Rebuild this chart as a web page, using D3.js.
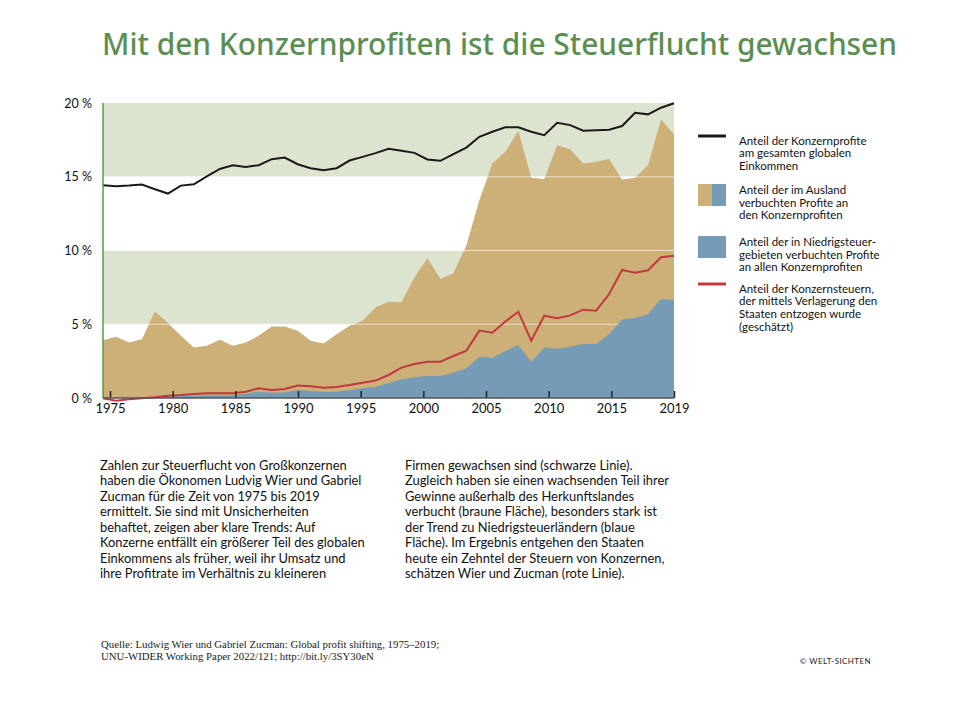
<!DOCTYPE html>
<html>
<head>
<meta charset="utf-8">
<script src="https://d3js.org/d3.v7.min.js"></script>
<style>
  body { margin: 0; background: #fff; }
  svg { display: block; }
</style>
</head>
<body>
<div id="chart"></div>
<script>
// Daten (Prozent des globalen Einkommens)
var years = d3.range(1975, 2020);

// Anteil der Konzernprofite am gesamten globalen Einkommen (schwarze Linie)
var profitShare = [14.42, 14.35, 14.4, 14.47, 14.15, 13.86, 14.4, 14.49, 15.03, 15.53,
  15.78, 15.67, 15.78, 16.19, 16.3, 15.85, 15.58, 15.44, 15.58, 16.1,
  16.35, 16.6, 16.89, 16.76, 16.62, 16.17, 16.08, 16.53, 16.98, 17.71,
  18.05, 18.35, 18.35, 18.05, 17.82, 18.66, 18.5, 18.12, 18.16, 18.19,
  18.44, 19.34, 19.23, 19.68, 19.98];

// Anteil der im Ausland verbuchten Profite (braune Fläche)
var foreignShare = [3.92, 4.15, 3.76, 3.99, 5.87, 5.08, 4.22, 3.42, 3.54, 3.95,
  3.54, 3.76, 4.22, 4.85, 4.85, 4.56, 3.88, 3.7, 4.33, 4.9,
  5.24, 6.14, 6.53, 6.49, 8.19, 9.48, 8.07, 8.46, 10.34, 13.4,
  15.9, 16.69, 18.12, 14.94, 14.85, 17.14, 16.87, 15.9, 16.01, 16.21,
  14.81, 14.94, 15.78, 18.89, 17.87];

// Anteil der in Niedrigsteuergebieten verbuchten Profite (blaue Fläche)
var havenShare = [0, 0, 0, 0.02, 0.05, 0.1, 0.12, 0.15, 0.18, 0.18,
  0.18, 0.29, 0.43, 0.36, 0.38, 0.54, 0.47, 0.43, 0.43, 0.54,
  0.66, 0.77, 1.0, 1.27, 1.4, 1.49, 1.49, 1.72, 2.01, 2.8,
  2.73, 3.19, 3.59, 2.46, 3.43, 3.34, 3.48, 3.66, 3.66, 4.32,
  5.33, 5.42, 5.67, 6.71, 6.66];

// Anteil der entgangenen Konzernsteuern (rote Linie)
var taxLoss = [-0.02, -0.18, -0.09, -0.02, 0.05, 0.16, 0.2, 0.27, 0.32, 0.32,
  0.32, 0.43, 0.66, 0.54, 0.61, 0.84, 0.79, 0.7, 0.75, 0.88,
  1.04, 1.18, 1.56, 2.06, 2.3, 2.46, 2.46, 2.85, 3.21, 4.57,
  4.43, 5.18, 5.85, 3.89, 5.58, 5.4, 5.6, 5.99, 5.92, 7.05,
  8.68, 8.5, 8.66, 9.54, 9.65];

var xTickLabels = ["1975", "1980", "1985", "1990", "1995", "2000", "2005", "2010", "2015", "2019"];
var yTicks = [0, 5, 10, 15, 20];
var bands = [[15, 20], [5, 10]];

var legendItems = [
  { type: "line", color: "#1a1a1a", lines: ["Anteil der Konzernprofite", "am gesamten globalen", "Einkommen"] },
  { type: "split", color: "#cdaf78", lines: ["Anteil der im Ausland", "verbuchten Profite an", "den Konzernprofiten"] },
  { type: "box", color: "#759bb6", lines: ["Anteil der in Niedrigsteuer-", "gebieten verbuchten Profite", "an allen Konzernprofiten"] },
  { type: "line", color: "#c1393f", lines: ["Anteil der Konzernsteuern,", "der mittels Verlagerung den", "Staaten entzogen wurde", "(geschätzt)"] }
];

var textCol1 = [
  "Zahlen zur Steuerflucht von Großkonzernen",
  "haben die Ökonomen Ludvig Wier und Gabriel",
  "Zucman für die Zeit von 1975 bis 2019",
  "ermittelt. Sie sind mit Unsicherheiten",
  "behaftet, zeigen aber klare Trends: Auf",
  "Konzerne entfällt ein größerer Teil des globalen",
  "Einkommens als früher, weil ihr Umsatz und",
  "ihre Profitrate im Verhältnis zu kleineren"
];
var textCol2 = [
  "Firmen gewachsen sind (schwarze Linie).",
  "Zugleich haben sie einen wachsenden Teil ihrer",
  "Gewinne außerhalb des Herkunftslandes",
  "verbucht (braune Fläche), besonders stark ist",
  "der Trend zu Niedrigsteuerländern (blaue",
  "Fläche). Im Ergebnis entgehen den Staaten",
  "heute ein Zehntel der Steuern von Konzernen,",
  "schätzen Wier und Zucman (rote Linie)."
];
var sourceLines = [
  "Quelle: Ludwig Wier und Gabriel Zucman: Global profit shifting, 1975–2019;",
  "UNU-WIDER Working Paper 2022/121; http://bit.ly/3SY30eN"
];

var data = years.map(function(yr, i) {
  return { year: yr, profit: profitShare[i], foreign: foreignShare[i], haven: havenShare[i], tax: taxLoss[i] };
});

// SVG
var width = 980, height = 717;
var svg = d3.select("#chart").append("svg")
  .attr("width", width)
  .attr("height", height);

var font = "Lato, 'Noto Sans', sans-serif";

// Skalen
var plotLeft = 103, plotRight = 674, plotTop = 103, plotBottom = 398;
var xScale = d3.scaleLinear().domain([1975, 2019]).range([plotLeft, plotRight]);
var yScale = d3.scaleLinear().domain([0, 20]).range([plotBottom, plotTop]);
var xTickScale = d3.scalePoint().domain(xTickLabels).range([110, 674]);

// Titel
svg.append("text")
  .attr("x", 102)
  .attr("y", 55)
  .attr("textLength", 795)
  .attr("lengthAdjust", "spacingAndGlyphs")
  .style("font-family", "'Noto Sans', sans-serif")
  .style("font-weight", 500)
  .style("font-size", "30px")
  .style("fill", "#5b8f52")
  .text("Mit den Konzernprofiten ist die Steuerflucht gewachsen");

// Hintergrundstreifen
svg.selectAll("rect.band")
  .data(bands)
  .enter()
  .append("rect")
  .attr("class", "band")
  .attr("x", plotLeft)
  .attr("width", plotRight - plotLeft)
  .attr("y", function(d) { return yScale(d[1]); })
  .attr("height", function(d) { return yScale(d[0]) - yScale(d[1]); })
  .style("fill", "#dce3ce");

// braune Fläche
var areaForeign = d3.area()
  .x(function(d) { return xScale(d.year); })
  .y0(yScale(0))
  .y1(function(d) { return yScale(d.foreign); });
svg.append("path")
  .datum(data)
  .attr("d", areaForeign)
  .style("fill", "#cdaf78");

// weiße Linien der Streifengrenzen über der Fläche
svg.selectAll("line.grid")
  .data([5, 10, 15])
  .enter()
  .append("line")
  .attr("x1", plotLeft)
  .attr("x2", plotRight)
  .attr("y1", function(d) { return yScale(d); })
  .attr("y2", function(d) { return yScale(d); })
  .style("stroke", "#fff")
  .style("stroke-opacity", 0.6)
  .style("stroke-width", 1);

// blaue Fläche
var areaHaven = d3.area()
  .x(function(d) { return xScale(d.year); })
  .y0(yScale(0))
  .y1(function(d) { return yScale(d.haven); });
svg.append("path")
  .datum(data)
  .attr("d", areaHaven)
  .style("fill", "#759bb6");

// rote Linie
var lineTax = d3.line()
  .x(function(d) { return xScale(d.year); })
  .y(function(d) { return yScale(d.tax); });
svg.append("path")
  .datum(data)
  .attr("d", lineTax)
  .style("fill", "none")
  .style("stroke", "#c1393f")
  .style("stroke-width", 2);

// schwarze Linie
var lineProfit = d3.line()
  .x(function(d) { return xScale(d.year); })
  .y(function(d) { return yScale(d.profit); });
svg.append("path")
  .datum(data)
  .attr("d", lineProfit)
  .style("fill", "none")
  .style("stroke", "#1a1a1a")
  .style("stroke-width", 2);

// grüne senkrechte Linie
svg.append("line")
  .attr("x1", plotLeft).attr("x2", plotLeft)
  .attr("y1", yScale(20)).attr("y2", yScale(0))
  .style("stroke", "#5a9a4a")
  .style("stroke-width", 1.5);

// x-Achse
var xAxis = d3.axisBottom(xTickScale).tickSizeInner(-7).tickSizeOuter(0).tickPadding(6);
var gx = svg.append("g")
  .attr("transform", "translate(0," + plotBottom + ")")
  .call(xAxis);
gx.select(".domain").remove();
gx.selectAll(".tick line").style("stroke", "#222").style("stroke-width", 1.5);
gx.selectAll(".tick text")
  .style("font-family", font)
  .style("font-size", "13px")
  .style("fill", "#111");
svg.append("line")
  .attr("x1", plotLeft).attr("x2", plotRight)
  .attr("y1", plotBottom).attr("y2", plotBottom)
  .style("stroke", "#555")
  .style("stroke-width", 1.5);

// y-Achse
var yAxis = d3.axisLeft(yScale).tickValues(yTicks).tickSize(0).tickPadding(0)
  .tickFormat(function(d) { return d + " %"; });
var gy = svg.append("g")
  .attr("transform", "translate(92,0)")
  .call(yAxis);
gy.select(".domain").remove();
gy.selectAll(".tick text")
  .style("font-family", font)
  .style("font-size", "12.5px")
  .style("fill", "#111");

// Legende
var legendY = [136, 184, 236, 284];
var lg = svg.selectAll("g.legend")
  .data(legendItems)
  .enter()
  .append("g")
  .attr("class", "legend")
  .attr("transform", function(d, i) { return "translate(698," + legendY[i] + ")"; });

lg.each(function(d) {
  var g = d3.select(this);
  if (d.type === "line") {
    g.append("line").attr("x1", 0).attr("x2", 28).attr("y1", 0).attr("y2", 0)
      .style("stroke", d.color).style("stroke-width", 3);
  } else if (d.type === "split") {
    g.append("rect").attr("x", 0).attr("y", 0).attr("width", 14).attr("height", 22).style("fill", d.color);
    g.append("rect").attr("x", 14).attr("y", 0).attr("width", 14).attr("height", 22).style("fill", "#759bb6");
  } else {
    g.append("rect").attr("x", 0).attr("y", 0).attr("width", 28).attr("height", 22).style("fill", d.color);
  }
  var t = g.append("text")
    .attr("x", 41)
    .attr("y", d.type === "line" ? 8.5 : 10)
    .style("font-family", font)
    .style("font-size", "11.5px")
    .style("fill", "#111");
  t.selectAll("tspan")
    .data(d.lines)
    .enter()
    .append("tspan")
    .attr("x", 41)
    .attr("dy", function(s, j) { return j === 0 ? 0 : 12.7; })
    .text(function(s) { return s; });
});

// Fließtext
function column(lines, x) {
  svg.append("g").selectAll("text")
    .data(lines)
    .enter()
    .append("text")
    .attr("x", x)
    .attr("y", function(d, i) { return 469.5 + i * 15.5; })
    .style("font-family", font)
    .style("font-size", "12.9px")
    .style("fill", "#111")
    .text(function(d) { return d; });
}
column(textCol1, 100);
column(textCol2, 405);

// Quelle
svg.append("g").selectAll("text")
  .data(sourceLines)
  .enter()
  .append("text")
  .attr("x", 101)
  .attr("y", function(d, i) { return 647.5 + i * 12; })
  .style("font-family", "'Liberation Serif', serif")
  .style("font-size", "10.8px")
  .style("fill", "#222")
  .text(function(d) { return d; });

// Logo
svg.append("text")
  .attr("x", 871)
  .attr("y", 664)
  .attr("text-anchor", "end")
  .style("font-family", font)
  .style("font-size", "8px")
  .style("letter-spacing", "0.4px")
  .style("fill", "#222")
  .text("© WELT-SICHTEN");
</script>
</body>
</html>
